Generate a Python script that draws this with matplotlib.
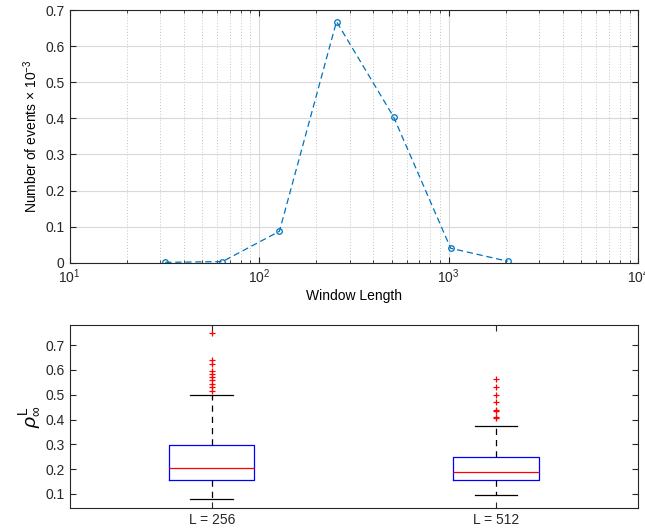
import matplotlib
matplotlib.use('Agg')
import matplotlib.pyplot as plt
from matplotlib.ticker import LogLocator, NullFormatter

plt.rcParams['font.family'] = ['Liberation Sans', 'DejaVu Sans']
plt.rcParams['font.size'] = 10
plt.rcParams['mathtext.fontset'] = 'custom'
plt.rcParams['mathtext.rm'] = 'Liberation Sans'
plt.rcParams['mathtext.it'] = 'Liberation Sans:italic'

# top panel: events vs window length
window_lengths = [32, 64, 128, 256, 512, 1024, 2048]
num_events = [0.001, 0.003, 0.087, 0.668, 0.404, 0.040, 0.004]

# bottom panel: box stats for rho
box_labels = ['L = 256', 'L = 512']
whislo = [0.080, 0.095]
q1 = [0.156, 0.156]
med = [0.205, 0.190]
q3 = [0.297, 0.250]
whishi = [0.500, 0.375]
fliers = [
    [0.750, 0.640, 0.625, 0.595, 0.585, 0.570, 0.560, 0.545, 0.530, 0.515],
    [0.565, 0.532, 0.500, 0.470, 0.440, 0.435, 0.410, 0.405],
]

line_color = '#0072BD'
axis_color = '#262626'

fig = plt.figure(figsize=(6.45, 5.32), dpi=100)

# ---- top plot ----
ax1 = fig.add_axes([69.5 / 645, 1 - 262.7 / 532, (638.3 - 69.5) / 645, (262.7 - 10) / 532])
ax1.plot(window_lengths, num_events, '--o', color=line_color, lw=0.9,
         markersize=4, markerfacecolor='none', markeredgewidth=0.9, dashes=(5, 3))
ax1.set_xscale('log')
ax1.set_xlim(10, 1e4)
ax1.set_ylim(0, 0.7)
ax1.set_yticks([0, 0.1, 0.2, 0.3, 0.4, 0.5, 0.6, 0.7])
ax1.set_yticklabels(['0', '0.1', '0.2', '0.3', '0.4', '0.5', '0.6', '0.7'])
ax1.xaxis.set_minor_locator(LogLocator(base=10, subs=range(2, 10)))
ax1.xaxis.set_minor_formatter(NullFormatter())
ax1.grid(True, which='major', color='#d9d9d9', lw=0.8, ls='-')
ax1.grid(True, which='minor', axis='x', color='#c4c4c4', lw=0.7, ls=(0, (1, 2)))
ax1.set_axisbelow(True)
ax1.set_xlabel('Window Length', labelpad=2)
ax1.set_ylabel(r'Number of events $\times$ 10$^{-3}$')

# ---- bottom plot ----
ax2 = fig.add_axes([69.5 / 645, 1 - 508.3 / 532, (638.3 - 69.5) / 645, (508.3 - 325) / 532])
stats = []
for i in range(len(box_labels)):
    stats.append({'label': box_labels[i], 'whislo': whislo[i], 'q1': q1[i], 'med': med[i],
                  'q3': q3[i], 'whishi': whishi[i], 'fliers': fliers[i]})
ax2.bxp(stats, widths=0.3, showfliers=True,
        boxprops=dict(color='blue', lw=0.9),
        medianprops=dict(color='red', lw=0.9),
        whiskerprops=dict(color='black', lw=0.9, ls=(0, (5, 4))),
        capprops=dict(color='black', lw=0.9),
        flierprops=dict(marker='+', markeredgecolor='red', markersize=5, markeredgewidth=0.9,
                        linestyle='none'),
        capwidths=0.15)
ax2.set_xlim(0.5, 2.5)
ax2.set_ylim(0.042, 0.781)
ax2.set_yticks([0.1, 0.2, 0.3, 0.4, 0.5, 0.6, 0.7])
ax2.set_ylabel(r'$\rho^{\mathrm{L}}_{\infty}$', fontsize=14, labelpad=2)

for ax in (ax1, ax2):
    ax.tick_params(which='both', direction='in', top=True, right=True, colors=axis_color,
                   labelcolor=axis_color, length=4)
    ax.tick_params(which='minor', length=2)
    for sp in ax.spines.values():
        sp.set_color(axis_color)
        sp.set_linewidth(0.8)

fig.savefig('out.png', dpi=100)
